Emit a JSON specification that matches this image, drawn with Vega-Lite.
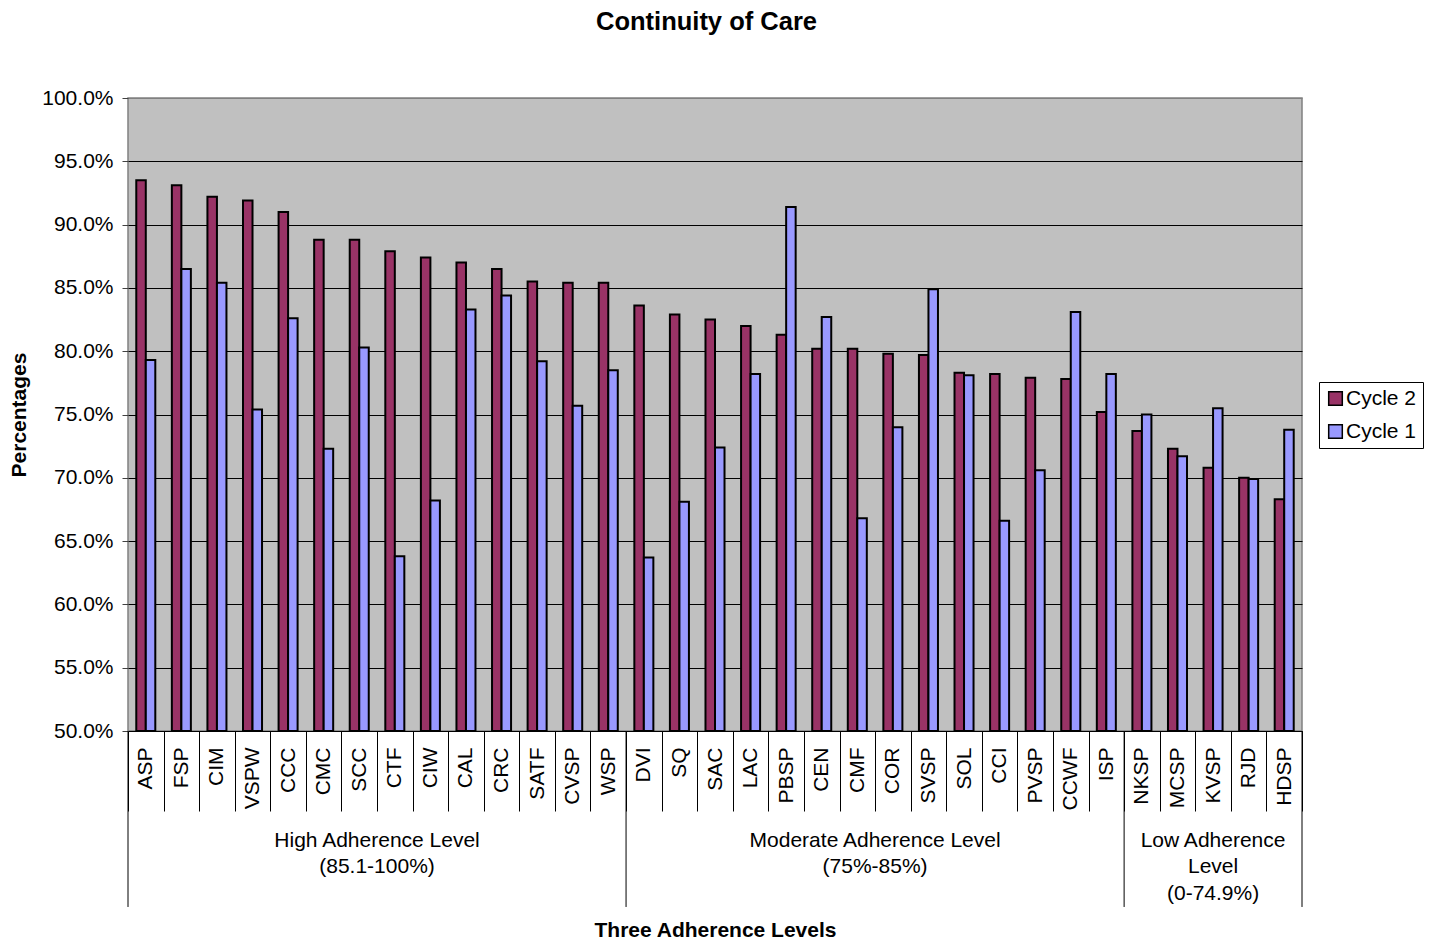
{
  "$schema": "https://vega.github.io/schema/vega-lite/v6.json",
  "autosize": {"type": "none"},
  "width": 1174,
  "height": 633,
  "padding": {"left": 128, "top": 98, "right": 130, "bottom": 210},
  "background": "white",
  "config": {
    "font": "Liberation Sans",
    "view": {"fill": "#C0C0C0", "stroke": "#808080", "strokeWidth": 1.5}
  },
  "title": {
    "text": "Continuity of Care",
    "font": "Liberation Sans",
    "fontSize": 25.5,
    "fontWeight": "bold",
    "color": "black",
    "anchor": "middle",
    "frame": "group",
    "baseline": "alphabetic",
    "offset": 32,
    "dx": -8.5
  },
  "datasets": {
    "bars": [
      {"cat": "ASP", "series": "Cycle 2", "value": 93.5}, {"cat": "ASP", "series": "Cycle 1", "value": 79.3},
      {"cat": "FSP", "series": "Cycle 2", "value": 93.1}, {"cat": "FSP", "series": "Cycle 1", "value": 86.5},
      {"cat": "CIM", "series": "Cycle 2", "value": 92.2}, {"cat": "CIM", "series": "Cycle 1", "value": 85.4},
      {"cat": "VSPW", "series": "Cycle 2", "value": 91.9}, {"cat": "VSPW", "series": "Cycle 1", "value": 75.4},
      {"cat": "CCC", "series": "Cycle 2", "value": 91.0}, {"cat": "CCC", "series": "Cycle 1", "value": 82.6},
      {"cat": "CMC", "series": "Cycle 2", "value": 88.8}, {"cat": "CMC", "series": "Cycle 1", "value": 72.3},
      {"cat": "SCC", "series": "Cycle 2", "value": 88.8}, {"cat": "SCC", "series": "Cycle 1", "value": 80.3},
      {"cat": "CTF", "series": "Cycle 2", "value": 87.9}, {"cat": "CTF", "series": "Cycle 1", "value": 63.8},
      {"cat": "CIW", "series": "Cycle 2", "value": 87.4}, {"cat": "CIW", "series": "Cycle 1", "value": 68.2},
      {"cat": "CAL", "series": "Cycle 2", "value": 87.0}, {"cat": "CAL", "series": "Cycle 1", "value": 83.3},
      {"cat": "CRC", "series": "Cycle 2", "value": 86.5}, {"cat": "CRC", "series": "Cycle 1", "value": 84.4},
      {"cat": "SATF", "series": "Cycle 2", "value": 85.5}, {"cat": "SATF", "series": "Cycle 1", "value": 79.2},
      {"cat": "CVSP", "series": "Cycle 2", "value": 85.4}, {"cat": "CVSP", "series": "Cycle 1", "value": 75.7},
      {"cat": "WSP", "series": "Cycle 2", "value": 85.4}, {"cat": "WSP", "series": "Cycle 1", "value": 78.5},
      {"cat": "DVI", "series": "Cycle 2", "value": 83.6}, {"cat": "DVI", "series": "Cycle 1", "value": 63.7},
      {"cat": "SQ", "series": "Cycle 2", "value": 82.9}, {"cat": "SQ", "series": "Cycle 1", "value": 68.1},
      {"cat": "SAC", "series": "Cycle 2", "value": 82.5}, {"cat": "SAC", "series": "Cycle 1", "value": 72.4},
      {"cat": "LAC", "series": "Cycle 2", "value": 82.0}, {"cat": "LAC", "series": "Cycle 1", "value": 78.2},
      {"cat": "PBSP", "series": "Cycle 2", "value": 81.3}, {"cat": "PBSP", "series": "Cycle 1", "value": 91.4},
      {"cat": "CEN", "series": "Cycle 2", "value": 80.2}, {"cat": "CEN", "series": "Cycle 1", "value": 82.7},
      {"cat": "CMF", "series": "Cycle 2", "value": 80.2}, {"cat": "CMF", "series": "Cycle 1", "value": 66.8},
      {"cat": "COR", "series": "Cycle 2", "value": 79.8}, {"cat": "COR", "series": "Cycle 1", "value": 74.0},
      {"cat": "SVSP", "series": "Cycle 2", "value": 79.7}, {"cat": "SVSP", "series": "Cycle 1", "value": 84.9},
      {"cat": "SOL", "series": "Cycle 2", "value": 78.3}, {"cat": "SOL", "series": "Cycle 1", "value": 78.1},
      {"cat": "CCI", "series": "Cycle 2", "value": 78.2}, {"cat": "CCI", "series": "Cycle 1", "value": 66.6},
      {"cat": "PVSP", "series": "Cycle 2", "value": 77.9}, {"cat": "PVSP", "series": "Cycle 1", "value": 70.6},
      {"cat": "CCWF", "series": "Cycle 2", "value": 77.8}, {"cat": "CCWF", "series": "Cycle 1", "value": 83.1},
      {"cat": "ISP", "series": "Cycle 2", "value": 75.2}, {"cat": "ISP", "series": "Cycle 1", "value": 78.2},
      {"cat": "NKSP", "series": "Cycle 2", "value": 73.7}, {"cat": "NKSP", "series": "Cycle 1", "value": 75.0},
      {"cat": "MCSP", "series": "Cycle 2", "value": 72.3}, {"cat": "MCSP", "series": "Cycle 1", "value": 71.7},
      {"cat": "KVSP", "series": "Cycle 2", "value": 70.8}, {"cat": "KVSP", "series": "Cycle 1", "value": 75.5},
      {"cat": "RJD", "series": "Cycle 2", "value": 70.0}, {"cat": "RJD", "series": "Cycle 1", "value": 69.9},
      {"cat": "HDSP", "series": "Cycle 2", "value": 68.3}, {"cat": "HDSP", "series": "Cycle 1", "value": 73.8}
    ],
    "splits": [{"cat": "ASP"}, {"cat": "DVI"}, {"cat": "NKSP"}],
    "ends": [{"cat": "HDSP"}],
    "labA": [
      {"cat": "CTF", "label": "High Adherence Level\n(85.1-100%)"},
      {"cat": "COR", "label": "Moderate Adherence Level\n(75%-85%)"}
    ],
    "labB": [
      {"cat": "KVSP", "label": "Low Adherence\nLevel\n(0-74.9%)"}
    ]
  },
  "layer": [
    {
      "data": {"name": "bars"},
      "mark": {"type": "bar", "stroke": "black", "strokeWidth": 2},
      "encoding": {
        "x": {
          "field": "cat",
          "type": "nominal",
          "scale": {
            "domain": ["ASP","FSP","CIM","VSPW","CCC","CMC","SCC","CTF","CIW","CAL","CRC","SATF","CVSP","WSP","DVI","SQ","SAC","LAC","PBSP","CEN","CMF","COR","SVSP","SOL","CCI","PVSP","CCWF","ISP","NKSP","MCSP","KVSP","RJD","HDSP"],
            "paddingInner": 0,
            "paddingOuter": 0
          },
          "axis": {
            "title": "Three Adherence Levels",
            "titleFontSize": 21,
            "titleFontWeight": "bold",
            "titleColor": "black",
            "titleX": 587,
            "titleY": 205,
            "titleAlign": "center",
            "titleBaseline": "alphabetic",
            "labelAngle": -90,
            "labelAlign": "right",
            "labelBaseline": "middle",
            "labelFontSize": 21,
            "labelColor": "black",
            "labelPadding": -64,
            "tickSize": 80,
            "tickBand": "extent",
            "tickColor": "black",
            "tickWidth": 1,
            "domainColor": "black",
            "domainWidth": 1,
            "grid": false
          }
        },
        "xOffset": {
          "field": "series",
          "type": "nominal",
          "scale": {"domain": ["Cycle 2", "Cycle 1"], "paddingInner": 0, "paddingOuter": 0.87}
        },
        "y": {
          "field": "value",
          "type": "quantitative",
          "scale": {"domain": [50, 100], "zero": false, "nice": false},
          "axis": {
            "title": "Percentages",
            "values": [50, 55, 60, 65, 70, 75, 80, 85, 90, 95, 100],
            "labelExpr": "format(datum.value, '.1f') + '%'",
            "labelFontSize": 21,
            "labelColor": "black",
            "labelPadding": 9,
            "tickSize": 6,
            "tickColor": "#404040",
            "domain": false,
            "grid": true,
            "gridColor": {"condition": {"test": "datum.value === 100", "value": "#808080"}, "value": "black"},
            "gridWidth": 1,
            "titleFontSize": 21,
            "titleFontWeight": "bold",
            "titleColor": "black",
            "titleAngle": -90,
            "titleX": -102.5,
            "titleY": 316.5,
            "titleAlign": "center",
            "titleBaseline": "alphabetic"
          }
        },
        "y2": {"datum": 50},
        "color": {
          "field": "series",
          "type": "nominal",
          "scale": {"domain": ["Cycle 2", "Cycle 1"], "range": ["#993366", "#9999FF"]},
          "legend": {
            "orient": "none",
            "legendX": 1191,
            "legendY": 284,
            "title": null,
            "labelFontSize": 21,
            "labelColor": "black",
            "symbolType": "square",
            "symbolSize": 185,
            "symbolStrokeColor": "black",
            "symbolStrokeWidth": 1.5,
            "symbolOpacity": 1,
            "strokeColor": "black",
            "fillColor": "white",
            "padding": 6,
            "rowPadding": 11,
            "labelOffset": 0
          }
        }
      }
    },
    {
      "data": {"name": "splits"},
      "mark": {"type": "rule", "color": "black", "strokeWidth": 1},
      "encoding": {
        "x": {"field": "cat", "type": "nominal", "bandPosition": 0},
        "y": {"datum": 50},
        "y2": {"datum": 36.1}
      }
    },
    {
      "data": {"name": "ends"},
      "mark": {"type": "rule", "color": "black", "strokeWidth": 1},
      "encoding": {
        "x": {"field": "cat", "type": "nominal", "bandPosition": 1},
        "y": {"datum": 50},
        "y2": {"datum": 36.1}
      }
    },
    {
      "data": {"name": "labA"},
      "mark": {"type": "text", "fontSize": 21, "lineBreak": "\n", "lineHeight": 26.5, "baseline": "alphabetic", "align": "center", "color": "black"},
      "encoding": {
        "x": {"field": "cat", "type": "nominal", "bandPosition": 0},
        "y": {"datum": 40.84},
        "text": {"field": "label"}
      }
    },
    {
      "data": {"name": "labB"},
      "mark": {"type": "text", "fontSize": 21, "lineBreak": "\n", "lineHeight": 26.5, "baseline": "alphabetic", "align": "center", "color": "black"},
      "encoding": {
        "x": {"field": "cat", "type": "nominal", "bandPosition": 0.5},
        "y": {"datum": 40.84},
        "text": {"field": "label"}
      }
    }
  ]
}
